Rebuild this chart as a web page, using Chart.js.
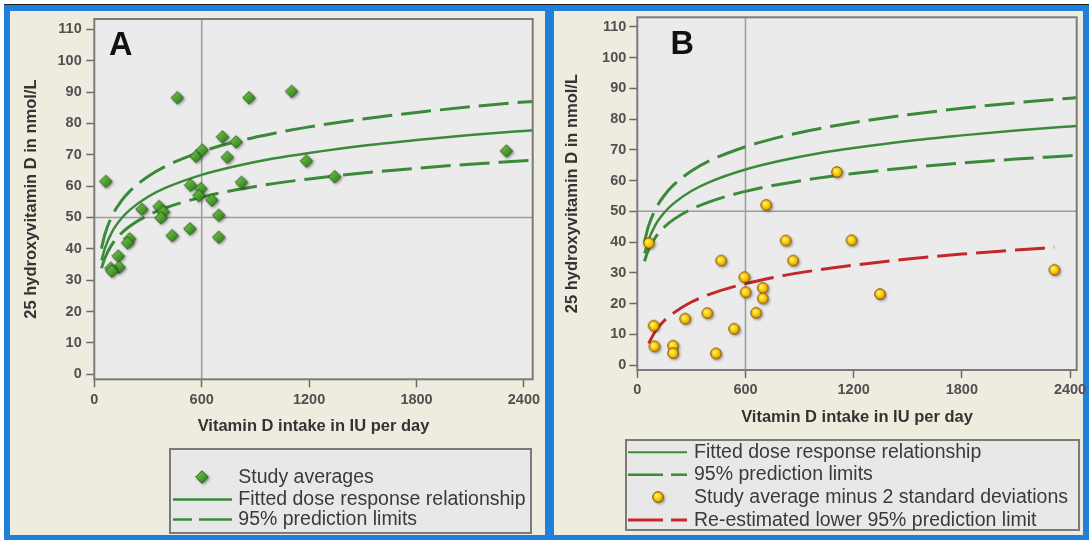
<!DOCTYPE html>
<html><head><meta charset="utf-8">
<script src="https://cdn.jsdelivr.net/npm/chart.js@4.4.0/dist/chart.umd.min.js"></script>
<style>
body{margin:0;width:1089px;height:540px;background:#fff;overflow:hidden;position:relative;font-family:'Liberation Sans',Arial,sans-serif;}
.abs{position:absolute;}
.lg{position:absolute;font-size:19.5px;line-height:19.5px;color:#3a3a3a;white-space:nowrap;}
.box{position:absolute;box-sizing:border-box;border:2px solid #7a7a7a;background:#e8e8e8;}
.lbl{position:absolute;font-size:32.5px;line-height:32.5px;font-weight:bold;color:#111;}
canvas{position:absolute;top:0;}
</style></head><body>
<div class="abs" style="left:4px;top:4px;width:1085px;height:536px;background:#1f80db;"></div>
<div class="abs" style="left:4px;top:4px;width:1085px;height:1px;background:#222;"></div>
<div class="abs" style="left:10px;top:11px;width:535px;height:524px;background:#eeecdf;"></div>
<div class="abs" style="left:554px;top:11px;width:529px;height:524px;background:#eeecdf;"></div>

<canvas id="cA" width="547" height="540" style="left:0px"></canvas>
<canvas id="cB" width="548" height="540" style="left:547px"></canvas>

<div class="lbl" style="left:109px;top:27.5px;">A</div>
<div class="lbl" style="left:670.5px;top:27px;">B</div>

<div class="box" style="left:169px;top:448px;width:363px;height:86px;"></div>
<div class="box" style="left:625px;top:439px;width:455px;height:92px;"></div>

<svg class="abs" style="left:0;top:0" width="1089" height="540">
  <line x1="173" y1="499.5" x2="232" y2="499.5" stroke="#3b8a3a" stroke-width="2.5"/>
  <line x1="173" y1="519.5" x2="192" y2="519.5" stroke="#3b8a3a" stroke-width="2.5"/>
  <line x1="199" y1="519.5" x2="232" y2="519.5" stroke="#3b8a3a" stroke-width="2.5"/>
  <line x1="628" y1="452.3" x2="687" y2="452.3" stroke="#3b8a3a" stroke-width="2"/>
  <line x1="628" y1="474.7" x2="663" y2="474.7" stroke="#3b8a3a" stroke-width="2.5"/>
  <line x1="671" y1="474.7" x2="687" y2="474.7" stroke="#3b8a3a" stroke-width="2.5"/>
  <line x1="628" y1="520" x2="663" y2="520" stroke="#c3272b" stroke-width="3"/>
  <line x1="671" y1="520" x2="687" y2="520" stroke="#c3272b" stroke-width="3"/>
</svg>
<img id="lgDiamond" class="abs" style="left:191.7px;top:467.3px;width:20px;height:20px;">
<img id="lgCircle" class="abs" style="left:647.7px;top:487.3px;width:20px;height:20px;">

<div class="lg" style="left:238.3px;top:466.8px;">Study averages</div>
<div class="lg" style="left:238.3px;top:488.5px;">Fitted dose response relationship</div>
<div class="lg" style="left:238.3px;top:508.5px;">95% prediction limits</div>

<div class="lg" style="left:694px;top:441.8px;">Fitted dose response relationship</div>
<div class="lg" style="left:694px;top:464.2px;">95% prediction limits</div>
<div class="lg" style="left:694px;top:486.8px;">Study average minus 2 standard deviations</div>
<div class="lg" style="left:694px;top:509.5px;">Re-estimated lower 95% prediction limit</div>

<script>
// ---------------- DATA ----------------
const xTickValues = [0, 600, 1200, 1800, 2400];
const yTickValues = [0, 10, 20, 30, 40, 50, 60, 70, 80, 90, 100, 110];
const refX = 600;
const refY = 50;

// Panel A: study averages
const studyX = [64, 464, 864, 1102, 716, 792, 568, 603, 743, 1185, 2302, 1343, 822, 538, 595, 584, 657, 695, 695, 534, 435, 266, 362, 386, 372, 197, 186, 134, 139, 92, 98];
const studyY = [61.5, 88.2, 88.2, 90.2, 75.7, 74.1, 69.5, 71.5, 69.2, 68.0, 71.2, 63.0, 61.2, 60.3, 59.2, 57.0, 55.5, 50.7, 43.7, 46.4, 44.2, 52.6, 53.5, 51.8, 49.9, 43.2, 41.9, 37.7, 34.1, 33.8, 32.9];

// Panel B: study average minus 2 SD
const sdX = [64, 91, 95, 198, 198, 265, 388, 436, 465, 537, 594, 601, 659, 696, 696, 715, 823, 864, 1107, 1188, 1346, 2313];
const sdY = [39.7, 12.8, 6.1, 6.3, 3.9, 15.1, 16.9, 3.8, 34.0, 11.8, 28.6, 23.7, 17.0, 25.1, 21.7, 52.1, 40.5, 34.0, 62.8, 40.6, 23.1, 31.0];

// Fitted curve and 95% prediction limits
const curveX = [40, 60, 100, 150, 200, 300, 400, 600, 800, 1000, 1200, 1500, 1800, 2100, 2400, 2450];
const fitY   = [36.3, 40.3, 45.5, 49.6, 52.5, 56.6, 59.5, 63.6, 66.5, 68.8, 70.6, 72.9, 74.7, 76.3, 77.6, 77.8];
const upperY = [40.1, 44.8, 50.6, 55.2, 58.5, 63.1, 66.4, 71.0, 74.3, 76.8, 78.9, 81.4, 83.5, 85.3, 86.8, 87.0];
const lowerY = [33.8, 37.2, 41.5, 44.9, 47.3, 50.7, 53.1, 56.5, 58.9, 60.8, 62.3, 64.2, 65.7, 67.0, 68.1, 68.3];

// Re-estimated lower 95% prediction limit (panel B)
const reX = [63, 100, 150, 200, 300, 400, 600, 800, 1000, 1200, 1500, 1800, 2100, 2313];
const reY = [7.0, 11.0, 14.5, 16.9, 20.5, 23.0, 26.5, 29.0, 30.9, 32.5, 34.5, 36.1, 37.4, 38.3];

// ---------------- STYLE ----------------
const GREEN = '#3b8a3a';
const RED = '#c3272b';
Chart.defaults.font.family = "'Liberation Sans', Arial, sans-serif";

function pts(xs, ys) { return xs.map((x, i) => ({x: x, y: ys[i]})); }

function makeDiamond() {
  const c = document.createElement('canvas'); c.width = 20; c.height = 20;
  const g = c.getContext('2d');
  g.shadowColor = 'rgba(0,0,0,0.45)'; g.shadowBlur = 3; g.shadowOffsetX = 1.5; g.shadowOffsetY = 1.5;
  const r = 6.3;
  g.beginPath(); g.moveTo(10, 10 - r); g.lineTo(10 + r, 10); g.lineTo(10, 10 + r); g.lineTo(10 - r, 10); g.closePath();
  const gr = g.createLinearGradient(5, 5, 15, 15);
  gr.addColorStop(0, '#74c24a'); gr.addColorStop(1, '#2a8018');
  g.fillStyle = gr; g.fill();
  g.shadowColor = 'transparent';
  g.lineWidth = 1; g.strokeStyle = '#275a18'; g.stroke();
  return c;
}
function makeCircle() {
  const c = document.createElement('canvas'); c.width = 20; c.height = 20;
  const g = c.getContext('2d');
  g.shadowColor = 'rgba(0,0,0,0.45)'; g.shadowBlur = 3; g.shadowOffsetX = 1.5; g.shadowOffsetY = 1.5;
  g.beginPath(); g.arc(10, 10, 5.3, 0, Math.PI * 2);
  const gr = g.createRadialGradient(8.5, 8.5, 0.5, 10, 10, 6);
  gr.addColorStop(0, '#fff27a'); gr.addColorStop(0.5, '#f7cc00'); gr.addColorStop(1, '#d98a00');
  g.fillStyle = gr; g.fill();
  g.shadowColor = 'transparent';
  g.lineWidth = 1; g.strokeStyle = '#8a5200'; g.stroke();
  return c;
}
const diamondImg = makeDiamond();
const circleImg = makeCircle();
document.getElementById('lgDiamond').src = diamondImg.toDataURL();
document.getElementById('lgCircle').src = circleImg.toDataURL();

const plotDeco = {
  id: 'plotDeco',
  beforeDraw(chart) {
    const {ctx, chartArea: a} = chart;
    ctx.save(); ctx.fillStyle = '#ebebeb'; ctx.fillRect(a.left, a.top, a.width, a.height); ctx.restore();
  },
  beforeDatasetsDraw(chart) {
    const {ctx, chartArea: a, scales: {x, y}} = chart;
    const px = x.getPixelForValue(refX), py = y.getPixelForValue(refY);
    ctx.save(); ctx.strokeStyle = '#9c9c9c'; ctx.lineWidth = 1.5;
    ctx.beginPath(); ctx.moveTo(px, a.top); ctx.lineTo(px, a.bottom);
    ctx.moveTo(a.left, py); ctx.lineTo(a.right, py); ctx.stroke(); ctx.restore();
  },
  afterDatasetsDraw(chart) {
    const {ctx, chartArea: a} = chart;
    ctx.save(); ctx.strokeStyle = '#7b7b7b'; ctx.lineWidth = 2;
    ctx.strokeRect(a.left, a.top, a.width, a.height); ctx.restore();
  }
};

function lineDs(label, xs, ys, color, dash, width) {
  return {type: 'scatter', label: label, data: pts(xs, ys), showLine: true, borderColor: color,
    backgroundColor: color, borderWidth: width, borderDash: dash, pointRadius: 0, pointHoverRadius: 0,
    cubicInterpolationMode: 'monotone', fill: false};
}

function build(id, p, datasets) {
  new Chart(document.getElementById(id), {
    type: 'scatter',
    data: {datasets: datasets},
    plugins: [plotDeco],
    options: {
      responsive: false, animation: false, devicePixelRatio: 1,
      layout: {padding: {left: 0, top: p.padTop, right: p.padRight, bottom: p.padBottom}},
      plugins: {legend: {display: false}, tooltip: {enabled: false}},
      scales: {
        x: {
          type: 'linear', min: p.xmin, max: p.xmax,
          afterBuildTicks: s => { s.ticks = xTickValues.map(v => ({value: v})); },
          afterFit: s => { s.height = p.xH; },
          grid: {drawOnChartArea: false, drawTicks: true, tickLength: 8, tickColor: '#6a6a6a', tickWidth: 1.5},
          border: {display: false},
          ticks: {padding: p.xTickPad, color: '#505050', font: {size: 14.5, weight: 'bold'}, maxRotation: 0, autoSkip: false,
                  callback: v => String(v)},
          title: {display: true, text: 'Vitamin D intake in IU per day', color: '#333',
                  font: {size: 16.5, weight: 'bold'}, padding: {top: 0, bottom: p.xTitlePad}}
        },
        y: {
          type: 'linear', min: p.ymin, max: p.ymax,
          afterBuildTicks: s => { s.ticks = yTickValues.map(v => ({value: v})); },
          afterFit: s => { s.width = p.yW; },
          grid: {drawOnChartArea: false, drawTicks: true, tickLength: 8, tickColor: '#6a6a6a', tickWidth: 1.5},
          border: {display: false},
          ticks: {padding: p.yTickPad, color: '#505050', font: {size: 14.5, weight: 'bold'}, autoSkip: false,
                  callback: v => String(v)},
          title: {display: true, text: '25 hydroxyvitamin D in nmol/L', color: '#333',
                  font: {size: 16.5, weight: 'bold'}, padding: {top: p.yTitlePad, bottom: 0}}
        }
      }
    }
  });
}

build('cA', {padTop: 19, padRight: 14.3, padBottom: 100.7, yW: 94.3, xH: 60, xmin: 0, xmax: 2449,
             ymin: -1.6, ymax: 113.3, yTitlePad: 21.8, xTitlePad: 2.7, xTickPad: 4, yTickPad: 4.6}, [
  {type: 'scatter', label: 'Study averages', data: pts(studyX, studyY), pointStyle: diamondImg, pointRadius: 6, showLine: false},
  lineDs('Fitted dose response relationship', curveX, fitY, GREEN, [], 2.5),
  lineDs('95% prediction limits', curveX, upperY, GREEN, [30, 9], 3),
  lineDs('95% prediction limits (lower)', curveX, lowerY, GREEN, [30, 9], 3)
]);

build('cB', {padTop: 17.3, padRight: 18.3, padBottom: 110, yW: 90.3, xH: 60, xmin: 0, xmax: 2437,
             ymin: -1.6, ymax: 113.1, yTitlePad: 15.6, xTitlePad: 2.6, xTickPad: 3.3, yTickPad: 3}, [
  {type: 'scatter', label: 'Study average minus 2 standard deviations', data: pts(sdX, sdY), pointStyle: circleImg, pointRadius: 6, showLine: false},
  lineDs('Fitted dose response relationship', curveX, fitY, GREEN, [], 2.5),
  lineDs('95% prediction limits', curveX, upperY, GREEN, [30, 9], 3),
  lineDs('95% prediction limits (lower)', curveX, lowerY, GREEN, [30, 9], 3),
  lineDs('Re-estimated lower 95% prediction limit', reX, reY, RED, [30, 9], 3)
]);
</script>
</body></html>
